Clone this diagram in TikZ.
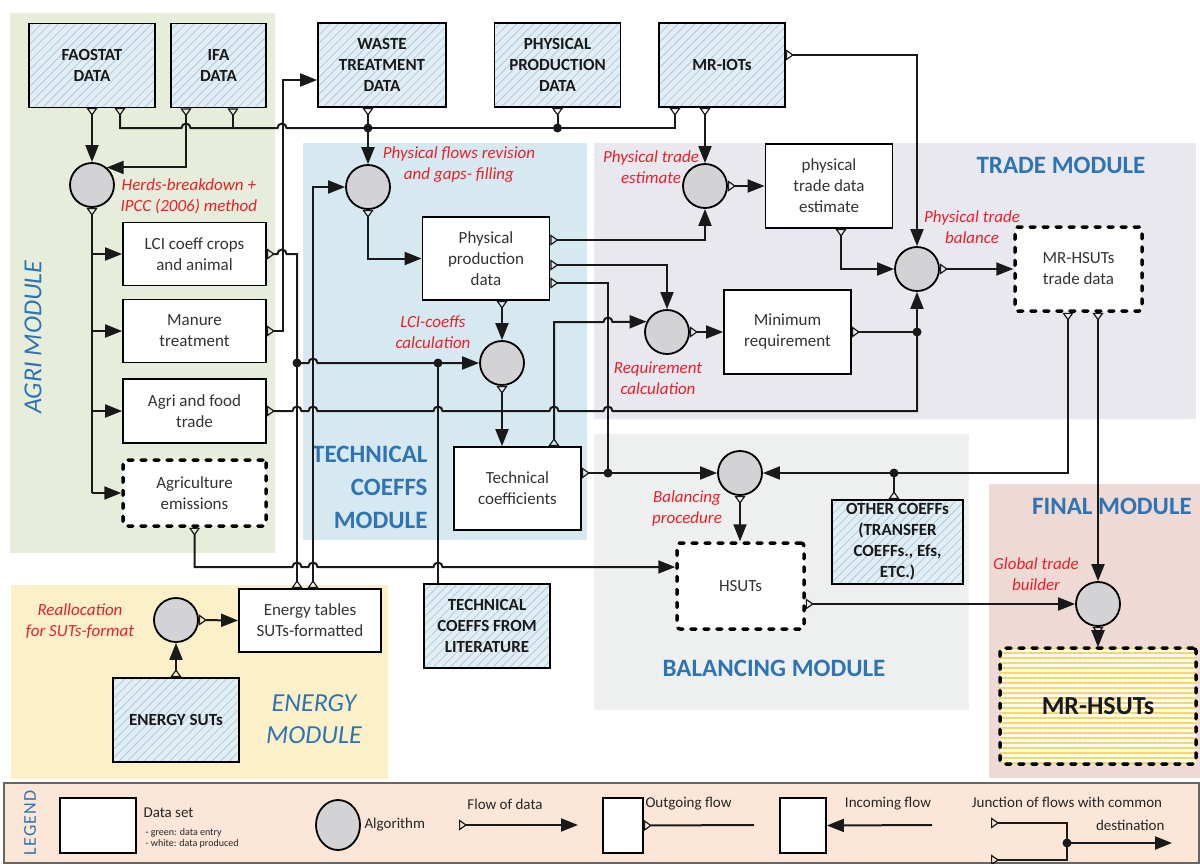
\documentclass[tikz,border=0pt]{standalone}
\usepackage{fontspec}
\setmainfont{Carlito}
\usepackage{tikz}
\usetikzlibrary{arrows.meta}
\usetikzlibrary{patterns.meta,shapes.geometric}
\usepackage{xcolor}

\definecolor{agribg}{HTML}{E6EDDA}
\definecolor{techbg}{HTML}{D6E9F0}
\definecolor{tradebg}{HTML}{E9E8EF}
\definecolor{balbg}{HTML}{EEF0EF}
\definecolor{finalbg}{HTML}{EED9D5}
\definecolor{energybg}{HTML}{FCF0C9}
\definecolor{legendbg}{HTML}{FBE6D8}
\definecolor{entryfill}{HTML}{E3EEF4}
\definecolor{entryhatch}{HTML}{A9CCDF}
\definecolor{algfill}{HTML}{D3D3D5}
\definecolor{algred}{HTML}{E8202A}
\definecolor{modblue}{HTML}{2E74B5}
\definecolor{hsutfill}{HTML}{FFFBEA}
\definecolor{hsutstripe}{HTML}{F3D56A}

\begin{document}
\begin{tikzpicture}[x=1pt,y=-1pt]
  \tikzset{%
  tipIn/.tip={Triangle[length=17pt,width=13pt]},
  tipOut/.tip={Triangle[open,reversed,length=8pt,width=11pt,line width=1.2pt]},
  }
  \tikzset{link/.style = {draw,line width=2pt,black!90}}
  \tikzset{flow/.style = {link,tipOut-tipIn}}
  \tikzset{outflow/.style = {link,tipOut-}}
  \tikzset{inflow/.style = {link,-tipIn}}
  \tikzset{jumpr/.style = {insert path={arc[start angle=180,end angle=0,radius=4.5pt]}}}
  \tikzset{dataset/.style = {shape=rectangle,draw,line width=1.8pt,fill=white,text=black!80,align=center,font=\fontsize{17}{21}\selectfont,minimum width=127pt,minimum height=84pt,inner sep=2pt}}
  \tikzset{entryset/.style = {shape=rectangle,draw,line width=1.8pt,preaction={fill=entryfill},pattern={Lines[angle=45,distance=6pt,line width=0.8pt]},pattern color=entryhatch,text=black!90,align=center,font=\fontsize{17}{21}\selectfont\bfseries,minimum width=126pt,minimum height=84pt,inner sep=2pt}}
  \tikzset{resultset/.style = {dataset,line width=3.5pt,dash pattern=on 5pt off 8pt,line cap=round,rounded corners=3pt}}
  \tikzset{alg/.style = {shape=circle,draw,line width=1.8pt,fill=algfill,minimum size=44pt,inner sep=0pt}}
  \tikzset{lbl/.style = {text=algred,align=center,font=\fontsize{17}{21}\selectfont\itshape}}
  \tikzset{modtitle/.style = {text=modblue,align=center,font=\fontsize{25}{33}\selectfont\bfseries}}
  \tikzset{legtext/.style = {text=black!85,font=\fontsize{15}{18}\selectfont}}

  \useasboundingbox (0,0) rectangle (1200,863);

  % module areas
  \fill[agribg] (10,13) rectangle (275,553);
  \fill[techbg] (303,143) rectangle (587,540);
  \fill[tradebg] (594,143) rectangle (1196,419);
  \fill[balbg] (594,434) rectangle (969,710);
  \fill[finalbg] (989,484) rectangle (1200,778);
  \fill[energybg] (11,585) rectangle (388,779);

  \node[text=modblue,font=\fontsize{26}{30}\selectfont\itshape,rotate=90] (agrimod) at (33,337) {AGRI MODULE};
  \node[modtitle,align=right,anchor=east] (techmod) at (431,487) {TECHNICAL\\COEFFS\\MODULE};
  \node[modtitle] (trademod) at (1061,165) {TRADE MODULE};
  \node[modtitle] (balmod) at (774,668) {BALANCING MODULE};
  \node[modtitle] (finalmod) at (1112,506) {FINAL MODULE};
  \node[text=modblue,align=center,font=\fontsize{26}{32}\selectfont\itshape] (energymod) at (314,719) {ENERGY\\MODULE};

  % data entry
  \node[entryset] (faostat) at (92,65.5) {FAOSTAT\\DATA};
  \node[entryset,minimum width=95pt] (ifa) at (218.5,65.5) {IFA\\DATA};
  \node[entryset,minimum width=128pt] (waste) at (382,65) {WASTE\\TREATMENT\\DATA};
  \node[entryset] (physprod) at (557.5,65) {PHYSICAL\\PRODUCTION\\DATA};
  \node[entryset] (mriot) at (722,65) {MR-IOTs};
  \node[entryset,minimum width=131pt] (othercoef) at (897.5,542) {OTHER COEFFs\\(TRANSFER\\COEFFs., Efs,\\ETC.)};
  \node[entryset] (techlit) at (487,626) {TECHNICAL\\COEFFS FROM\\LITERATURE};
  \node[entryset] (energysuts) at (176,720) {ENERGY SUTs};

  % data produced
  \node[dataset,minimum width=143pt,minimum height=63pt] (lcibox) at (194.5,254) {LCI coeff crops\\and animal};
  \node[dataset,minimum width=143pt,minimum height=63pt] (manure) at (194.5,331) {Manure\\treatment};
  \node[dataset,minimum width=143pt,minimum height=64pt] (agrifood) at (194.5,411) {Agri and food\\trade};
  \node[resultset,minimum width=143pt,minimum height=66pt] (agriem) at (194.5,493) {Agriculture\\emissions};
  \node[dataset,minimum height=83pt] (ppdata) at (486,258.5) {Physical\\production\\data};
  \node[dataset,minimum height=83pt] (techcoef) at (517.5,488.5) {Technical\\coefficients};
  \node[dataset] (ptde) at (829,186) {physical\\trade data\\estimate};
  \node[dataset] (minreq) at (787.5,332) {Minimum\\requirement};
  \node[resultset] (mrtrade) at (1078.5,269) {MR-HSUTs\\trade data};
  \node[resultset,minimum height=86pt] (hsuts) at (740.5,586) {HSUTs};
  \node[dataset,minimum width=142pt,minimum height=63pt] (energytab) at (310,620.5) {Energy tables\\SUTs-formatted};
  \node[resultset,minimum width=196pt,minimum height=116pt,preaction={fill=hsutfill},pattern={Lines[angle=0,distance=5pt,line width=1.6pt]},pattern color=hsutstripe,text=black!90,font=\fontsize{26}{30}\selectfont\bfseries] (mrhsuts) at (1098,706) {MR-HSUTs};

  % algorithms
  \node[alg] (herds) at (92,185) {};
  \node[alg] (physflow) at (368,187) {};
  \node[alg] (lcicalc) at (502,363) {};
  \node[alg] (ptest) at (705,186) {};
  \node[alg] (reqcalc) at (667,332) {};
  \node[alg] (ptbal) at (917,269) {};
  \node[alg] (balproc) at (740,473) {};
  \node[alg] (global) at (1098,604) {};
  \node[alg] (realloc) at (176,620) {};

  \node[lbl,anchor=west] (herdslbl) at (117,196) {Herds-breakdown +\\IPCC (2006) method};
  \node[lbl] (physflowlbl) at (459,165) {Physical flows revision\\and gaps- filling};
  \node[lbl] (ptestlbl) at (651,167) {Physical trade\\estimate};
  \node[lbl] (lcilbl) at (433,332) {LCI-coeffs\\calculation};
  \node[lbl] (reqlbl) at (658,378) {Requirement\\calculation};
  \node[lbl] (ptballbl) at (972,227) {Physical trade\\balance};
  \node[lbl] (ballbl) at (687,508) {Balancing\\procedure};
  \node[lbl] (globallbl) at (1036,574) {Global trade\\builder};
  \node[lbl] (realloclbl) at (80,621) {Reallocation\\for SUTs-format};

  % junctions
  \coordinate (jA) at (368,128);
  \coordinate (jB) at (297,363);
  \coordinate (jC) at (438,363);
  \coordinate (jD) at (917,332);
  \coordinate (jE) at (608,473);
  \coordinate (jF) at (894,473);

  % agri module
  \draw[flow] (faostat.south) -- (herds.north);
  \draw[flow] ([xshift=-32.5pt]ifa.south) |- (herds.50);
  \draw[outflow] (herds.south) -- (herds.south |- agriem.west);
  \foreach \b in {lcibox,manure,agrifood,agriem}
    \draw[inflow] (herds.south |- \b.west) -- (\b.west);

  % raw data to physical flows revision
  \draw[outflow] ([xshift=28pt]faostat.south) |- (181.5,128) [jumpr] -- (277.5,128) [jumpr] -- (jA);
  \draw[outflow] ([xshift=14.5pt]ifa.south) -- ([xshift=14.5pt]ifa.south |- jA);
  \draw[outflow] (waste.south -| jA) -- (jA);
  \draw[outflow] (physprod.south) -- (physprod.south |- jA);
  \draw[outflow] ([xshift=-47pt]mriot.south) |- (jA);
  \draw[inflow] (jA) -- (physflow.north);
  \draw[flow] (manure.east) -- ++(16,0) |- ([yshift=-15pt]waste.west);

  % LCI and energy to LCI-coeffs calculation
  \draw[outflow] (lcibox.east) -- (277.5,254) [jumpr] -- (297,254) -- (jB);
  \draw[outflow] (energytab.north -| jB) -- (jB);
  \draw[inflow] (jB) -- (308.5,363) [jumpr] -- (lcicalc.west);
  \draw[link] (techlit.north -| jC) -- (jC);
  \draw[flow] ([xshift=3pt]energytab.north) |- (physflow.west);
  \draw[flow] (realloc.east) -- (energytab.west);
  \draw[flow] (energysuts.north) -- (realloc.south);

  % long lines
  \draw[outflow] (agrifood.east) -- (292.5,411) [jumpr] -- (308.5,411) [jumpr] -- (433.5,411) [jumpr] -- (549.5,411) [jumpr] -- (603.5,411) [jumpr] -| (jD);
  \draw[flow] (agriem.south) |- (292.5,567) [jumpr] -- (308.5,567) [jumpr] -- (433.5,567) [jumpr] -- ([yshift=19pt]hsuts.west);

  % technical coeffs module
  \draw[flow] (physflow.south) |- (ppdata.west);
  \draw[flow] (ppdata.south -| lcicalc) -- (lcicalc.north);
  \draw[flow] (lcicalc.south) -- (lcicalc.south |- techcoef.north);
  \draw[flow] ([yshift=18.5pt]ppdata.east) -| (ptest.south);
  \draw[flow] ([yshift=-6.5pt]ppdata.east) -| (reqcalc.north);
  \draw[outflow] ([yshift=-24.5pt]ppdata.east) -| (jE);
  \draw[flow] ([xshift=36.5pt]techcoef.north) |- (603.5,322) [jumpr] -- (reqcalc.153);
  \draw[outflow] ([yshift=15.5pt]techcoef.east) -- (jE);
  \draw[inflow] (jE) -- (balproc.west);

  % trade module
  \draw[flow] (mriot.south -| ptest) -- (ptest.north);
  \draw[flow] ([yshift=10pt]mriot.east) -| (ptbal.north);
  \draw[flow] (ptest.east) -- (ptde.west);
  \draw[flow] ([xshift=12pt]ptde.south) |- (ptbal.west);
  \draw[flow] (reqcalc.east) -- (minreq.west);
  \draw[outflow] (minreq.east) -- (jD);
  \draw[inflow] (jD) -- (ptbal.south);
  \draw[flow] (ptbal.east) -- (mrtrade.west);

  % balancing and final
  \draw[outflow] ([xshift=-10.5pt]mrtrade.south) |- (jF);
  \draw[outflow] (othercoef.north -| jF) -- (jF);
  \draw[inflow] (jF) -- (balproc.east);
  \draw[flow] (balproc.south) -- (balproc.south |- hsuts.north);
  \draw[flow] ([xshift=19.5pt]mrtrade.south) -- (global.north);
  \draw[flow] ([yshift=-18pt]hsuts.east) -- (global.west);
  \draw[flow] (global.south) -- (mrhsuts.north);

  \foreach \j in {jA,jB,jC,jD,jE,jF}
    \fill[black!90] (\j) circle (4.5pt);
  \fill[black!90] (physprod.south |- jA) circle (4.5pt);

  % legend
  \draw[black!60,line width=1.5pt,fill=legendbg] (4,783) rectangle (1199,863);
  \node[text=modblue,rotate=90,font=\fontsize{18}{20}\selectfont\addfontfeature{LetterSpace=6}] (legtitle) at (30,823) {LEGEND};
  \node[draw,line width=1.8pt,fill=white,minimum width=76pt,minimum height=55pt] (lgbox) at (98,825.5) {};
  \node[legtext,anchor=west] (lgboxtxt) at (140,813) {Data set};
  \node[legtext,anchor=west,align=left,font=\fontsize{10}{11}\selectfont] (lgboxsub) at (142,838) {- green: data entry\\- white: data produced};
  \node[shape=ellipse,draw,line width=1.8pt,fill=algfill,minimum width=44pt,minimum height=50pt,inner sep=0pt] (lgalg) at (338,825) {};
  \node[legtext,anchor=west] (lgalgtxt) at (361,825) {Algorithm};
  \coordinate (lgA) at (459,825);
  \coordinate (lgB) at (578,825);
  \draw[flow] (lgA) -- (lgB);
  \node[legtext] (lgflowtxt) at (505,804) {Flow of data};
  \node[draw,line width=1.8pt,fill=white,minimum width=40pt,minimum height=55pt] (lgout) at (623,825.5) {};
  \coordinate (lgC) at (754,825);
  \draw[outflow] (lgout.east) -- (lgC);
  \node[legtext,anchor=west] (lgouttxt) at (642,804) {Outgoing flow};
  \node[draw,line width=1.8pt,fill=white,minimum width=46pt,minimum height=55pt] (lgin) at (803,825.5) {};
  \coordinate (lgD) at (932,825);
  \draw[inflow] (lgD) -- (lgin.east);
  \node[legtext] (lgintxt) at (888,804) {Incoming flow};
  \node[legtext] (lgjtxt) at (1067,802) {Junction of flows with common};
  \node[legtext,anchor=east] (lgjtxt2) at (1168,825) {destination};
  \coordinate (lgE) at (991,823);
  \coordinate (lgF) at (991,860);
  \coordinate (lgJ) at (1067,843);
  \coordinate (lgG) at (1172,843);
  \draw[outflow] (lgE) -| (lgJ);
  \draw[outflow] (lgF) -| (lgJ);
  \draw[inflow] (lgJ) -- (lgG);
  \fill[black!90] (lgJ) circle (4.5pt);

\end{tikzpicture}
\end{document}
